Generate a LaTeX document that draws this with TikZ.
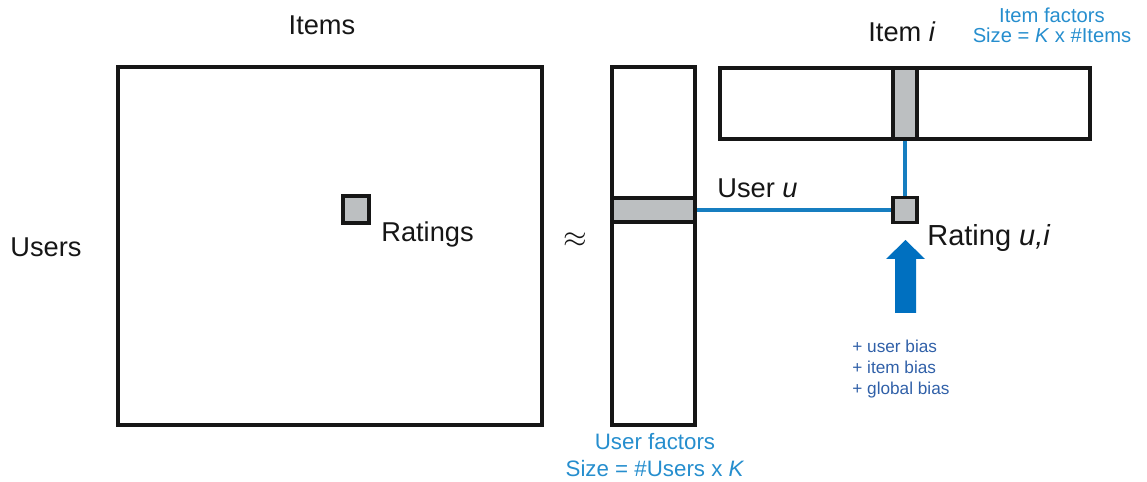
\documentclass[tikz,border=0pt]{standalone}
\usepackage{fontspec}
\setmainfont{Liberation Sans}
\usetikzlibrary{positioning}
\definecolor{ink}{RGB}{22,22,22}
\definecolor{cellgray}{RGB}{188,191,193}
\definecolor{linkblue}{RGB}{22,126,192}
\definecolor{arrowblue}{RGB}{0,112,192}
\definecolor{capblue}{RGB}{38,142,206}
\definecolor{biasblue}{RGB}{48,96,168}
\tikzset{
	box/.style={draw=ink,line width=2pt,inner sep=0pt},
	cell/.style={box,fill=cellgray},
	link/.style={draw=linkblue,line width=2pt},
	lbl/.style={inner sep=0pt,text=ink,font=\fontsize{15.5}{18}\selectfont},
	caplbl/.style={inner sep=0pt,text=capblue,align=center},
	bump/.style={fill=arrowblue}
}
\begin{document}
\begin{tikzpicture}[x=0.02cm,y=-0.02cm]
	\useasboundingbox (0,0) rectangle (1147,482);
	% matrices
	\node[box,minimum width=8.48cm,minimum height=7.16cm] (R) at (330,246) {};
	\node[box,minimum width=1.66cm,minimum height=7.16cm] (U) at (653.5,246) {};
	\node[box,minimum width=7.4cm,minimum height=1.42cm] (I) at (905,103.5) {};
	\foreach \n/\p/\w/\h in {r/{(356,209.5)}/0.52/0.54, Uu/{(653.5,210)}/1.66/0.48,
		Ii/{(905,103.5)}/0.48/1.42, Rui/{(905,210)}/0.48/0.5}{
		\node[cell,minimum width=\w cm,minimum height=\h cm] (\n) at \p {};
	}
	\draw[link] (Uu) -- (Rui) (Ii) -- (Rui);
	% bias arrow
	\coordinate (tip) at (905.5,240);
	\fill[bump] (tip) -- ++(19.5,19) -- ++(-9,0) -- ++(0,54) -- ++(-21,0) -- ++(0,-54) -- ++(-9,0) -- cycle;
	% labels
	\node[lbl,anchor=base] (items) at (322,35) {Items};
	\node[lbl,anchor=base west] (users) at (10,257) {Users};
	\node[lbl,anchor=base west] (ratings) at (381,242) {Ratings};
	\node[inner sep=0pt,text=ink,font=\fontsize{17}{19}\selectfont] (approx) at (575,240) {$\approx$};
	\node[lbl,anchor=base west] (useru) at (717,198) {User \textit{u}};
	\node[lbl,anchor=base west] (itemi) at (868,42) {Item \textit{i}};
	\node[lbl,anchor=base west,font=\fontsize{16.5}{20}\selectfont] (ratingui) at (927,246) {Rating \textit{u,i}};
	\node[caplbl,anchor=north,font=\fontsize{11.5}{11}\selectfont] (ifac) at (1052,8) {Item factors\\Size = \textit{K} x \#Items};
	\node[caplbl,anchor=north,font=\fontsize{12.7}{15.6}\selectfont] (ufac) at (655,433) {User factors\\Size = \#Users x \textit{K}};
	\node[inner sep=0pt,text=biasblue,align=left,anchor=north west,font=\fontsize{9.8}{12}\selectfont] (bias) at (852,340) {+ user bias\\+ item bias\\+ global bias};
\end{tikzpicture}
\end{document}
